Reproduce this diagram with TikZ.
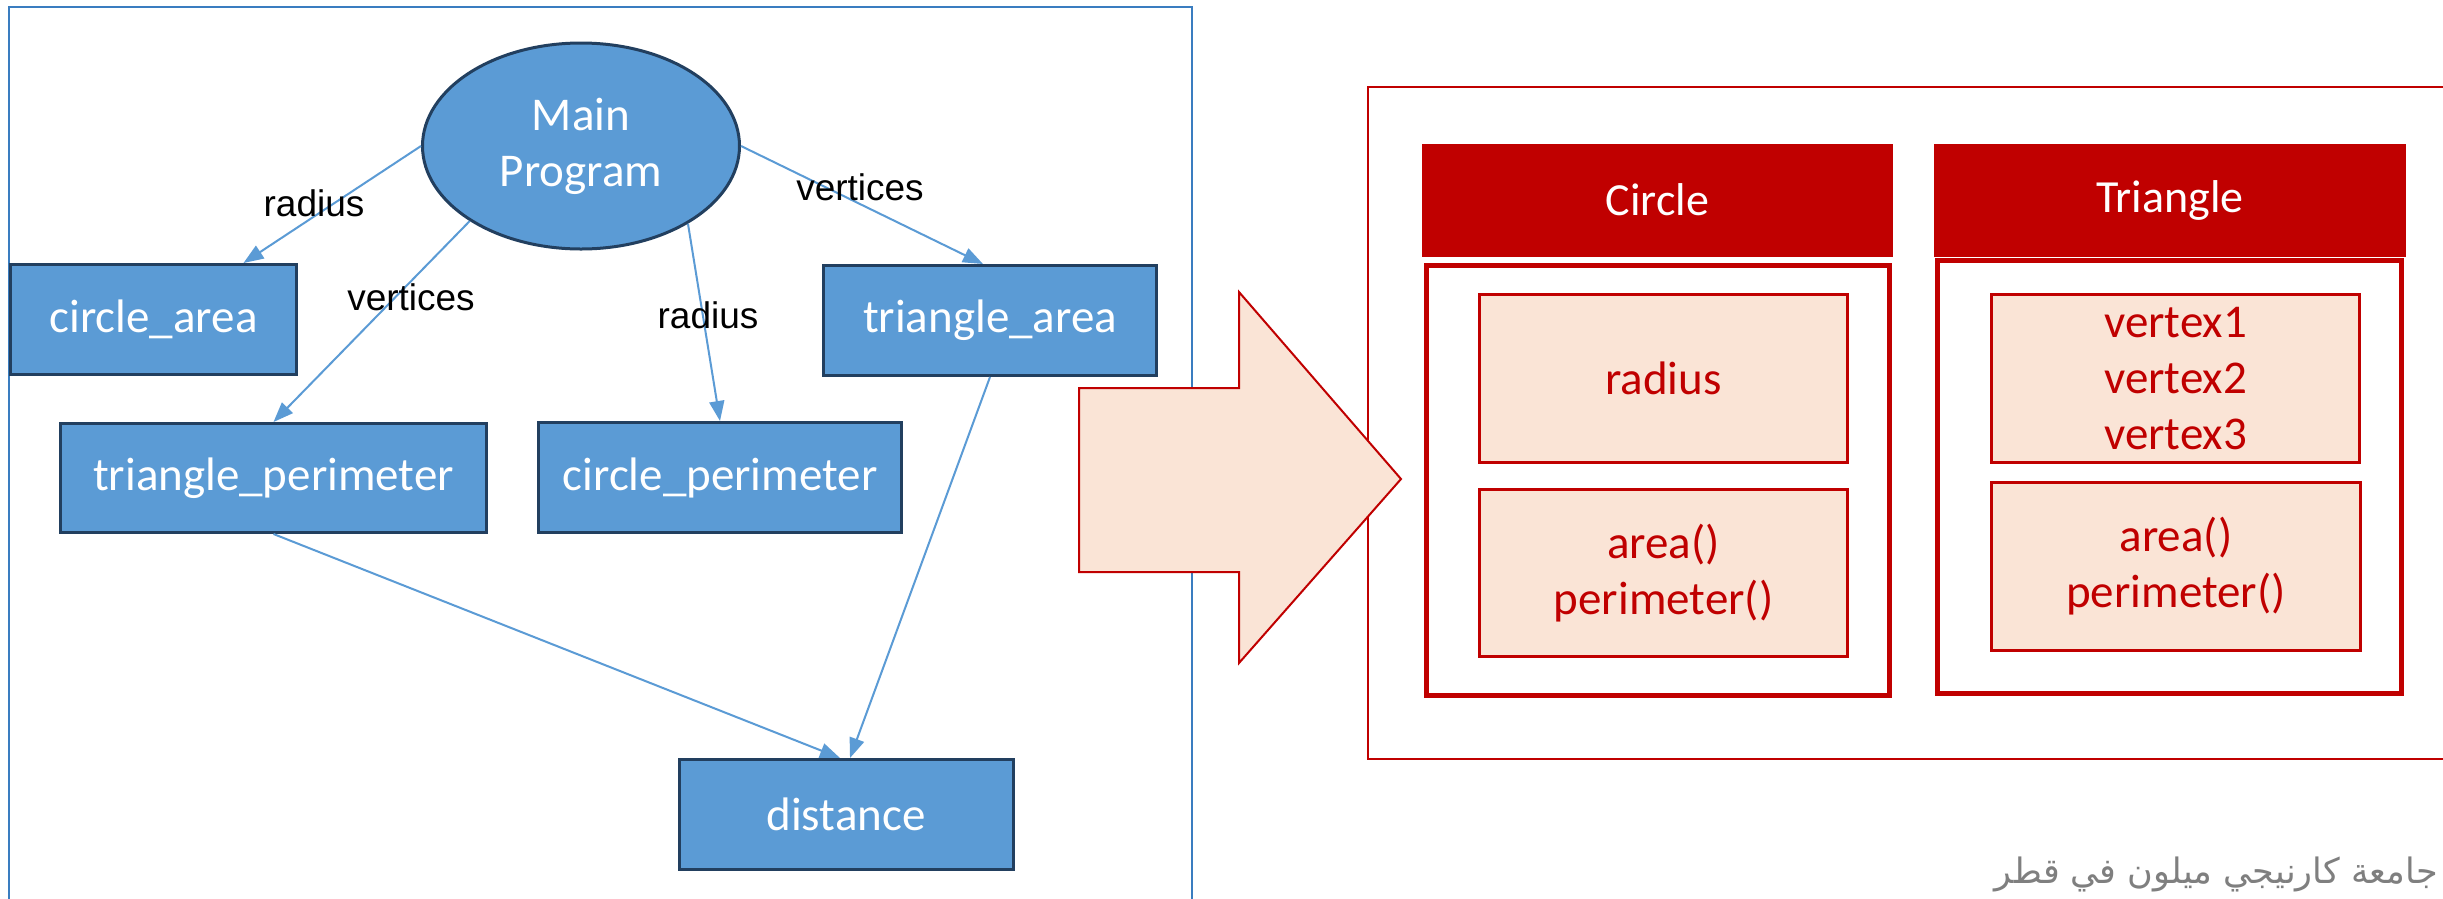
\documentclass[tikz,border=0pt]{standalone}
\usepackage{fontspec}
\setmainfont{Carlito}
\newfontfamily\labelfont{Liberation Sans}
\newfontfamily\arabicfont[Script=Arabic]{DejaVu Sans}
\TeXXeTstate=1
\usetikzlibrary{arrows.meta,shapes.geometric}
\definecolor{boxblue}{HTML}{5B9BD5}
\definecolor{boxedge}{HTML}{223F5F}
\definecolor{frameblue}{HTML}{3A7DC0}
\definecolor{darkred}{HTML}{C00000}
\definecolor{peach}{HTML}{FAE4D6}
\definecolor{logogray}{HTML}{7F7F7F}

\begin{document}
\begin{tikzpicture}[x=1pt,y=-1pt,
  modbox/.style={draw=boxedge, line width=3pt, fill=boxblue, text=white,
    font=\fontsize{47}{56}\selectfont, inner sep=0pt},
  call/.style={draw=boxblue, line width=2pt, -{Triangle[length=20pt,width=15pt]}},
  arglabel/.style={font=\labelfont\fontsize{37}{44}\selectfont, text=black, inner sep=0pt},
  header/.style={fill=darkred, text=white, font=\fontsize{46}{55}\selectfont, inner sep=0pt},
  classbody/.style={draw=darkred, line width=5pt, inner sep=0pt},
  member/.style={draw=darkred, line width=3pt, fill=peach, text=darkred,
    font=\fontsize{47}{56}\selectfont, align=center, inner sep=0pt}
]
\clip (0,0) rectangle (2443,898);
\fill[white] (0,0) rectangle (2443,898);

% procedural design: call structure
\draw[frameblue, line width=2.5pt] (9,7) rectangle (1192,930);

\node[modbox, ellipse, minimum width=317pt, minimum height=206pt, align=center]
  (main) at (581,146) {Main\\Program};

\node[modbox, minimum width=286pt, minimum height=110pt] (carea) at (153.5,319.5) {circle\_area};
\node[modbox, minimum width=333pt, minimum height=110pt] (tarea) at (990,320.5) {triangle\_area};
\node[modbox, minimum width=426pt, minimum height=109pt] (tperim) at (273.5,478) {triangle\_perimeter};
\node[modbox, minimum width=363pt, minimum height=110pt] (cperim) at (720,477.5) {circle\_perimeter};
\node[modbox, minimum width=334pt, minimum height=110pt] (dist) at (846,814.5) {distance};

\draw[call] (main.west) -- ([xshift=90pt]carea.north);
\draw[call] (main.214) -- (tperim.north);
\draw[call] (main.-36) -- (cperim.north);
\draw[call] (main.east) -- ([xshift=-7pt]tarea.north);
\draw[call] (tarea.south) -- ([xshift=4pt]dist.north);
\draw[call] (tperim.south) -- ([xshift=-6pt]dist.north);

\node[arglabel] (lr1) at (314,203) {radius};
\node[arglabel] (lv1) at (411,297) {vertices};
\node[arglabel] (lr2) at (708,315) {radius};
\node[arglabel] (lv2) at (860,187) {vertices};

% object-oriented design: classes
\draw[darkred, line width=2.5pt] (1368,87) rectangle (2470,759);

\node[header, minimum width=471pt, minimum height=113pt] (chead) at (1657.5,200) {Circle};
\node[header, minimum width=472pt, minimum height=113pt] (thead) at (2170,200) {Triangle};

\node[classbody, minimum width=463pt, minimum height=430pt] (cbody) at (1657.5,480) {};
\node[classbody, minimum width=464pt, minimum height=433pt] (tbody) at (2169,476.5) {};

\node[member, minimum width=368pt, minimum height=168pt] (crad) at (1663.5,378.5) {radius};
\node[member, minimum width=368pt, minimum height=167pt] (cmeth) at (1663.5,573) {area()\\perimeter()};
\node[member, minimum width=368pt, minimum height=168pt] (tvert) at (2175.5,378.5) {vertex1\\vertex2\\vertex3};
\node[member, minimum width=369pt, minimum height=168pt] (tmeth) at (2176,566.5) {area()\\perimeter()};

% transition arrow
\draw[darkred, line width=2pt, fill=peach]
  (1079,388) -- (1239,388) -- (1239,292) -- (1401,479) -- (1239,663)
  -- (1239,572) -- (1079,572) -- cycle;

% logo text
\node[anchor=base east, inner sep=0pt, text=logogray,
  font=\arabicfont\fontsize{35}{42}\selectfont] (logo) at (2438,883)
  {\beginR جامعة كارنيجي ميلون في قطر\endR};
\end{tikzpicture}
\end{document}
